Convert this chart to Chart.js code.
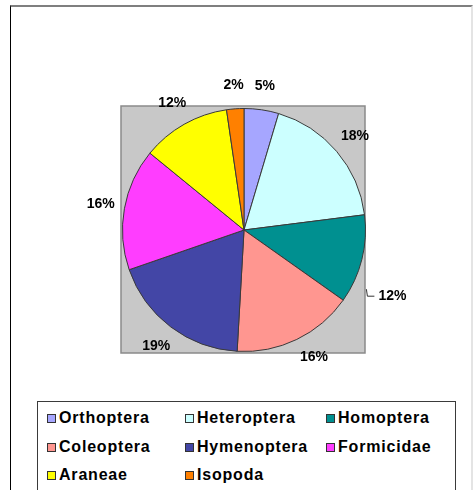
<!DOCTYPE html>
<html>
<head>
<meta charset="utf-8">
<script src="https://cdn.jsdelivr.net/npm/chart.js@4/dist/chart.umd.min.js"></script>
<style>
  html, body { margin:0; padding:0; background:#fff; width:474px; height:490px; overflow:hidden; }
  #frame { position:absolute; left:10px; top:5px; width:460px; height:500px;
           border-top:2px solid #7f7f7f; border-left:1px solid #000; border-right:2px solid #e4e4e4; background:#fff; }
  #c { position:absolute; left:0; top:0; z-index:2; }
  #legend { position:absolute; left:37px; top:401px; width:417px; height:120px;
            border:1px solid #3a3a3a; background:#fff; z-index:3;
            font-family:"Liberation Sans", Arial, sans-serif; font-weight:bold; font-size:16px; letter-spacing:0.8px; color:#000; }
  .item { position:absolute; height:20px; line-height:20px; white-space:nowrap; }
  .box { position:absolute; left:0; top:6px; width:7px; height:7px; border:1px solid #333; }
  .txt { position:absolute; left:12px; top:0; }
</style>
</head>
<body>
<div id="frame"></div>
<canvas id="c" width="474" height="400"></canvas>
<div id="legend"></div>
<script>
const categories = ["Orthoptera","Heteroptera","Homoptera","Coleoptera","Hymenoptera","Formicidae","Araneae","Isopoda"];
const values = [4.6, 18.4, 11.8, 16.1, 18.8, 16.2, 11.8, 2.3];
const colors = ["#a6a6ff","#ccffff","#009090","#ff9690","#4346a6","#ff3dff","#ffff00","#ff8000"];

const total = values.reduce((a,b)=>a+b,0);
const pctLabels = values.map(v => Math.round(v/total*100) + "%");

const plotBg = {
  id:'plotBg',
  beforeDraw(chart){
    const {ctx, chartArea:a} = chart;
    ctx.save();
    ctx.fillStyle = '#c8c8c8';
    ctx.fillRect(a.left-1, a.top-2, a.right-a.left, a.bottom-a.top+3);
    ctx.strokeStyle = '#8a8a8a';
    ctx.lineWidth = 1.5;
    ctx.strokeRect(a.left-1, a.top-2, a.right-a.left, a.bottom-a.top+3);
    ctx.restore();
  }
};

const outLabels = {
  id:'outLabels',
  afterDatasetsDraw(chart, args, opts){
    const ctx = chart.ctx;
    const meta = chart.getDatasetMeta(0);
    ctx.save();
    ctx.font = 'bold 14px "Liberation Sans", Arial, sans-serif';
    ctx.fillStyle = '#000';
    ctx.textBaseline = 'middle';
    meta.data.forEach((arc, i) => {
      const p = arc.getProps(['x','y','startAngle','endAngle','outerRadius'], true);
      const tw = (opts.tweaks && opts.tweaks[i]) || {};
      const mid = (p.startAngle + p.endAngle)/2 + (tw.dAngle || 0) * Math.PI/180;
      const dist = p.outerRadius + (tw.dist != null ? tw.dist : opts.dist);
      const lx = p.x + Math.cos(mid)*dist;
      const ly = p.y + Math.sin(mid)*dist;
      const text = pctLabels[i];
      if (tw.leader) {
        const w = ctx.measureText(text).width;
        const left = lx - w/2;
        ctx.strokeStyle = '#333';
        ctx.lineWidth = 1;
        ctx.beginPath();
        ctx.moveTo(left - 12, ly - 7);
        ctx.lineTo(left - 11, ly);
        ctx.lineTo(left - 4, ly);
        ctx.stroke();
      }
      ctx.textAlign = 'center';
      ctx.fillText(text, lx, ly);
    });
    ctx.restore();
  }
};

const chart = new Chart(document.getElementById('c'), {
  type:'pie',
  data:{
    labels:categories,
    datasets:[{ data:values, backgroundColor:colors, borderColor:'#3a3a3a', borderWidth:1 }]
  },
  options:{
    responsive:false,
    animation:false,
    layout:{ padding:{ left:122, right:108, top:108, bottom:48 } },
    plugins:{
      legend:{ display:false },
      tooltip:{ enabled:false },
      outLabels:{ dist:24, tweaks:{ 2:{ dAngle:10, dist:41, leader:true }, 3:{ dAngle:-3 } } }
    }
  },
  plugins:[plotBg, outLabels]
});

// HTML legend built from chart data
const legend = document.getElementById('legend');
const colX = [9, 147, 288];
const rowY = [6, 35, 63];
categories.forEach((name, i) => {
  const it = document.createElement('div');
  it.className = 'item';
  it.style.left = colX[i % 3] + 'px';
  it.style.top = rowY[Math.floor(i / 3)] + 'px';
  const b = document.createElement('span');
  b.className = 'box';
  b.style.background = colors[i];
  const t = document.createElement('span');
  t.className = 'txt';
  t.textContent = name;
  it.appendChild(b); it.appendChild(t);
  legend.appendChild(it);
});
</script>
</body>
</html>
